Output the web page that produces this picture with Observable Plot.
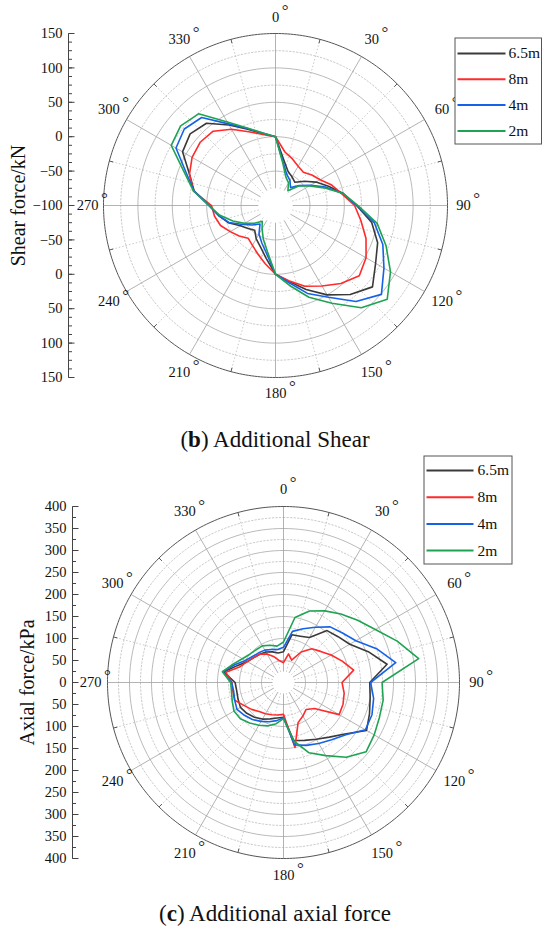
<!DOCTYPE html>
<html><head><meta charset="utf-8">
<script src="https://cdn.jsdelivr.net/npm/d3@7"></script>
<script src="https://cdn.jsdelivr.net/npm/@observablehq/plot@0.6"></script>
<style>
body{margin:0;background:#fff;width:550px;overflow:hidden;}
.cap{width:550px;height:30px;line-height:30px;text-align:center;font-family:"Liberation Serif",serif;font-size:23px;color:#111;}
</style></head><body>
<div id="c1"></div>
<div class="cap">(<b>b</b>) Additional Shear</div>
<div id="c2"></div>
<div class="cap">(<b>c</b>) Additional axial force</div>
<script>
// ---------------- data ----------------
const angles = d3.range(0, 360, 10);
const seriesNames = ["6.5m", "8m", "4m", "2m"];
const seriesColors = ["#3a3a3a", "#ff2a2a", "#1562e8", "#1fa352"];
const angleLabels = [0, 30, 60, 90, 120, 150, 180, 210, 240, 270, 300, 330];

// Additional shear (kN), at angles 0..350 step 10
const shear65 = [0,-32,-47,-52,-56,-45,-32,-18,0,18,42,58,68,84,69,50,30,12,0,-22,-36,-44,-53,-48,-41,-27,-16,-4,20,33,56,62,56,35,18,6];
const shear8  = [0,-21,-28,-34,-37,-31,-25,-13,-2,15,26,40,52,59,48,35,25,11,0,-14,-25,-33,-38,-31,-24,-15,-10,-7,21,33,40,43,41,28,14,5];
const shear4  = [0,-36,-52,-58,-66,-55,-41,-22,0,18,46,66,82,101,82,54,36,14,0,-28,-42,-52,-65,-56,-45,-28,-16,-3,20,38,67,73,67,37,19,7];
const shear2  = [0,-38,-56,-62,-72,-56,-43,-25,0,20,50,71,93,112,94,64,42,18,0,-32,-48,-61,-70,-60,-48,-34,-18,-3,21,41,75,80,74,40,20,7];
const shearTickLabels = [150,100,50,0,-50,-100,-50,0,50,100,150];

// Additional axial force (kPa), at angles 0..350 step 10
const axial65 = [70,110,112,118,154,162,174,205,239,196,200,208,218,182,162,149,140,134,79,82,88,96,103,109,113,110,108,110,138,112,95,88,84,80,74,68];
const axial8  = [45,66,54,80,100,110,125,142,162,133,140,144,146,92,80,88,97,150,72,75,78,82,86,95,104,118,117,117,133,105,95,88,84,75,62,50];
const axial4  = [80,118,130,145,165,175,190,225,259,198,208,214,215,185,170,160,152,144,80,88,95,102,110,116,122,118,115,118,140,118,100,92,88,85,80,76];
const axial2  = [92,150,173,188,203,220,241,275,312,224,230,232,238,245,222,192,170,135,82,95,105,112,120,128,130,124,120,120,141,122,108,100,97,96,90,84];
const axialTickLabels = [400,350,300,250,200,150,100,50,0,50,100,150,200,250,300,350,400];

// ---------------- chart builder ----------------
const FONT = "Liberation Serif";
function polarChart(cfg) {
  const {W, H, cx, cy, outerPx, rMin, rMax, series, tickLabels, minorStep,
         axisPx, titlePx, title, labelPx, legend} = cfg;
  const span = rMax - rMin;
  const k = outerPx / span;
  const px = p => p / k;
  const X = p => (p - cx) / k;
  const Y = p => (cy - p) / k;
  const rad = a => a * Math.PI / 180;
  const pol = (u, a) => ({x: u * Math.sin(rad(a)), y: u * Math.cos(rad(a))});

  const circ = [];
  for (const u of d3.range(50, span, 25)) {
    for (const a of d3.range(0, 360, 2)) circ.push({u, major: u % 50 === 0, ...pol(u, a)});
  }
  const outer = d3.range(0, 360, 1).map(a => pol(span, a));
  const spokes = d3.range(0, 360, 15).map(a => ({a, major: a % 30 === 0}));
  const minorTicks = d3.range(15, 360, 30);

  const rows = [];
  series.forEach((vals, i) => {
    vals.forEach((v, j) => rows.push({name: seriesNames[i], ...pol(v - rMin, angles[j])}));
  });

  const mid = (tickLabels.length - 1) / 2;
  const ticks = tickLabels.map((v, i) => ({v, u: i < mid ? v - rMin : i > mid ? -(v - rMin) : 0}));
  const minor = d3.range(-span, span + 0.001, minorStep);
  const fmt = v => (v < 0 ? "\u2212" + Math.abs(v) : String(v));

  const labU = a => px(labelPx + 5 * Math.abs(Math.sin(rad(2 * a))));
  const lp = a => pol(labU(a), a);
  const ly = (d, i) => Y(legend.y0 + i * legend.gap);

  return Plot.plot({
    width: W, height: H, margin: 0,
    x: {domain: [X(0), X(W)], range: [0, W], axis: null},
    y: {domain: [Y(H), Y(0)], range: [H, 0], axis: null},
    color: {domain: seriesNames, range: seriesColors},
    style: {fontFamily: FONT, background: "white", color: "#111", overflow: "visible"},
    marks: [
      Plot.line(circ.filter(d => !d.major), {x: "x", y: "y", z: "u", curve: "linear-closed", stroke: "#bdbdbd", strokeWidth: 0.8, strokeDasharray: "1.5,2"}),
      Plot.line(circ.filter(d => d.major), {x: "x", y: "y", z: "u", curve: "linear-closed", stroke: "#a8a8a8", strokeWidth: 0.8}),
      Plot.link(spokes.filter(d => !d.major), {x1: d => pol(25, d.a).x, y1: d => pol(25, d.a).y, x2: d => pol(span, d.a).x, y2: d => pol(span, d.a).y, stroke: "#bdbdbd", strokeWidth: 0.8, strokeDasharray: "1.5,2"}),
      Plot.link(spokes.filter(d => d.major), {x1: d => pol(25, d.a).x, y1: d => pol(25, d.a).y, x2: d => pol(span, d.a).x, y2: d => pol(span, d.a).y, stroke: "#a0a0a0", strokeWidth: 0.8}),
      Plot.line(outer, {x: "x", y: "y", curve: "linear-closed", stroke: "#555", strokeWidth: 1}),
      Plot.link(minorTicks, {x1: a => pol(span, a).x, y1: a => pol(span, a).y, x2: a => pol(span - px(4), a).x, y2: a => pol(span - px(4), a).y, stroke: "#555", strokeWidth: 1}),
      Plot.line(rows, {x: "x", y: "y", z: "name", stroke: "name", curve: "linear-closed", strokeWidth: 1.6}),
      Plot.text(angleLabels, {x: a => lp(a).x, y: a => lp(a).y, text: a => String(a), fontSize: 14.5, fill: "#111"}),
      Plot.text(angleLabels, {x: a => lp(a).x + px(String(a).length * 3.6 + 6), y: a => lp(a).y + px(6.5), text: () => "\u00b0", fontSize: 17, fill: "#222"}),
      Plot.link([0], {x1: () => X(axisPx), x2: () => X(axisPx), y1: () => -span, y2: () => span, stroke: "#444", strokeWidth: 1}),
      Plot.link(ticks, {x1: () => X(axisPx), x2: () => X(axisPx + 6), y1: "u", y2: "u", stroke: "#444", strokeWidth: 1}),
      Plot.link(minor, {x1: () => X(axisPx), x2: () => X(axisPx + 3.5), y1: d => d, y2: d => d, stroke: "#444", strokeWidth: 1}),
      Plot.text(ticks, {x: () => X(axisPx - 6), y: "u", text: d => fmt(d.v), textAnchor: "end", fontSize: 14.5, fill: "#111"}),
      Plot.text([title], {x: () => X(titlePx), y: () => 0, text: d => d, rotate: -90, fontSize: 20, fill: "#111"}),
      Plot.rect([0], {x1: () => X(legend.x0), x2: () => X(legend.x1), y1: () => Y(legend.top), y2: () => Y(legend.bottom), fill: "white", stroke: "#555", strokeWidth: 1}),
      Plot.link(seriesNames, {x1: () => X(legend.lx0), x2: () => X(legend.lx1), y1: ly, y2: ly, stroke: d => d, strokeWidth: 2}),
      Plot.text(seriesNames, {x: () => X(legend.tx), y: ly, text: d => d, textAnchor: "start", fontSize: 15.5, fill: "#111"})
    ]
  });
}

document.getElementById("c1").append(polarChart({
  W: 550, H: 425, cx: 275, cy: 205, outerPx: 172, rMin: -100, rMax: 150,
  series: [shear65, shear8, shear4, shear2], tickLabels: shearTickLabels, minorStep: 12.5,
  axisPx: 68, titlePx: 18, title: "Shear force/kN", labelPx: 188,
  legend: {x0: 455, x1: 541.5, top: 38, bottom: 144, lx0: 457, lx1: 505, tx: 508, y0: 53, gap: 25.8}
}));
document.getElementById("c2").append(polarChart({
  W: 550, H: 444, cx: 283, cy: 227, outerPx: 176, rMin: 0, rMax: 400,
  series: [axial65, axial8, axial4, axial2], tickLabels: axialTickLabels, minorStep: 25,
  axisPx: 72, titlePx: 27, title: "Axial force/kPa", labelPx: 193,
  legend: {x0: 424, x1: 512, top: 1, bottom: 109, lx0: 426, lx1: 473, tx: 477, y0: 15, gap: 26.7}
}));
</script>
</body></html>
